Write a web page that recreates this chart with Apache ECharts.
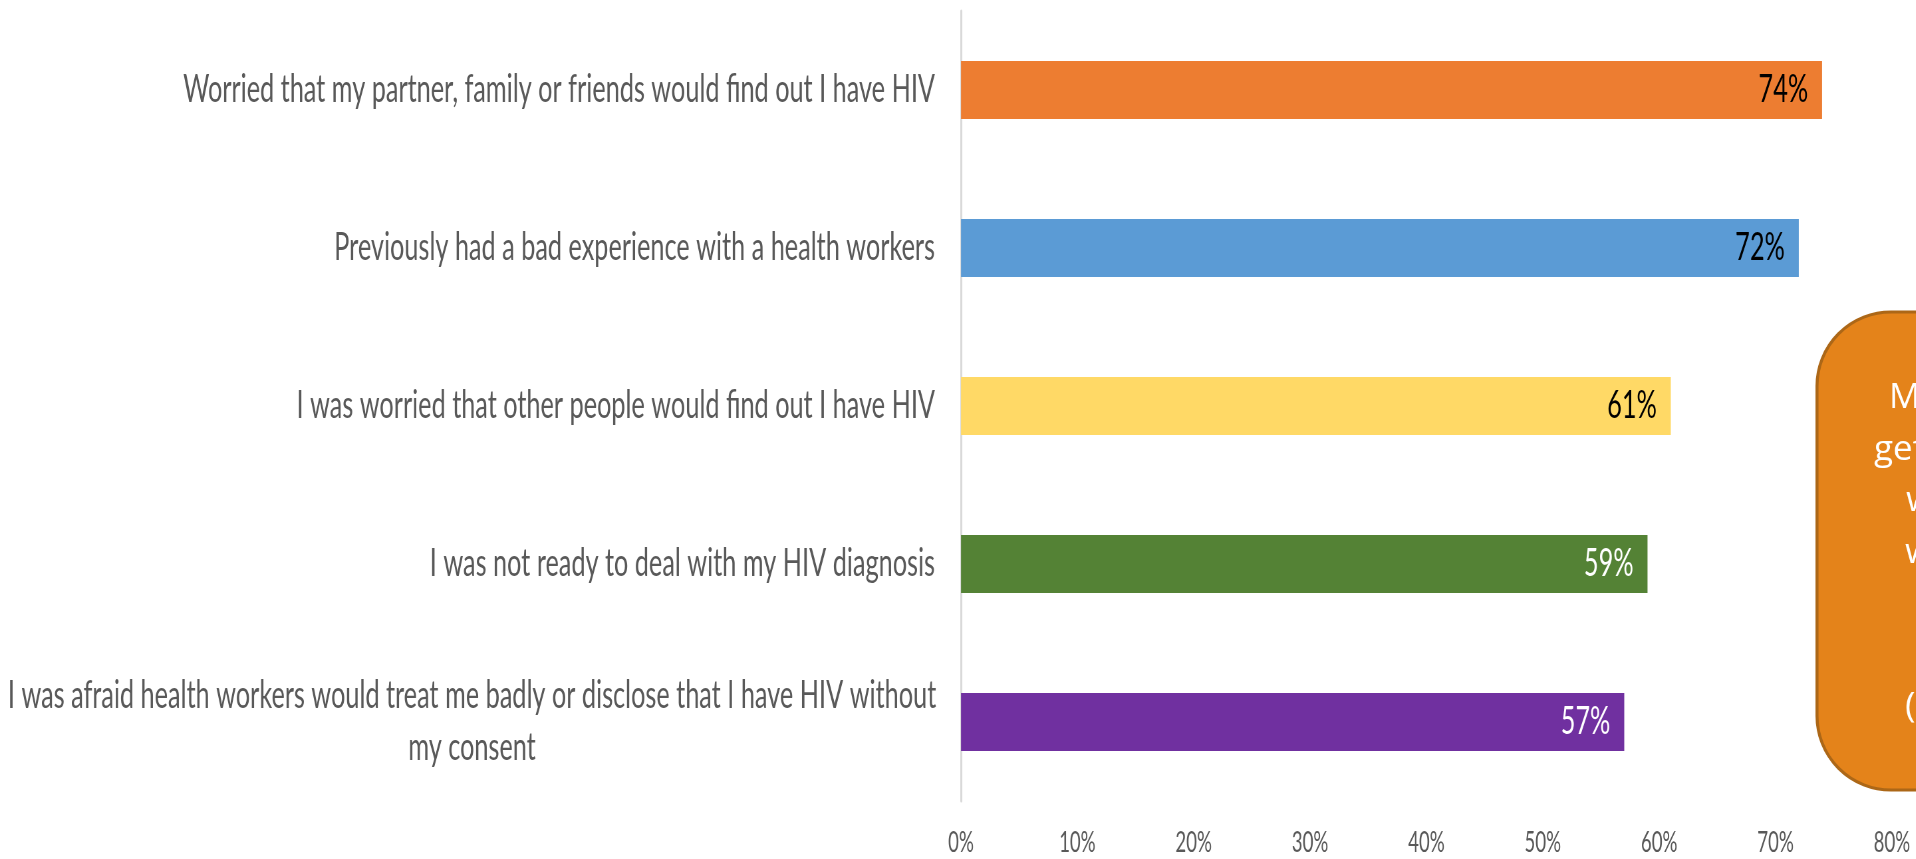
<!DOCTYPE html>
<html>
<head>
<meta charset="utf-8">
<script src="https://cdn.jsdelivr.net/npm/echarts@6/dist/echarts.min.js"></script>
<style>
  html, body { margin: 0; padding: 0; background: #ffffff; overflow: hidden; width: 1916px; height: 859px; }
  #chart { position: absolute; left: 0; top: 0; height: 859px; transform-origin: 0 0; }
</style>
</head>
<body>
<div id="chart"></div>
<script>
// ---- data ----
var categories = [
  'Worried that my partner, family or friends would find out I have HIV',
  'Previously had a bad experience with a health workers',
  'I was worried that other people would find out I have HIV',
  'I was not ready to deal with my HIV diagnosis',
  'I was afraid health workers would treat me badly or disclose that I have HIV without my consent'
];
var values = [74, 72, 61, 59, 57];
var barColors = ['#ED7D31', '#5B9BD5', '#FFD966', '#548235', '#7030A0'];
var labelColors = ['#000000', '#000000', '#000000', '#ffffff', '#ffffff'];
var xTicks = { min: 0, max: 80, interval: 10 };
var calloutLines = ['M', 'get', 'w', 'w', '', '', '('];

// ---- layout (condensed text look: whole chart squeezed horizontally) ----
var S = 0.665;                // horizontal squeeze
var W = 1916, H = 859;
var el = document.getElementById('chart');
el.style.width = (W / S) + 'px';
el.style.transform = 'scaleX(' + S + ')';

var chart = echarts.init(el, null, { renderer: 'canvas' });

function wrap(text, maxChars) {
  var words = text.split(' '), lines = [], cur = '';
  words.forEach(function (w) {
    if ((cur + ' ' + w).trim().length > maxChars) { lines.push(cur); cur = w; }
    else { cur = (cur + ' ' + w).trim(); }
  });
  if (cur) lines.push(cur);
  return lines;
}

var boxX = 1817, boxTop = 312, boxH = 478;
var calloutChildren = [{
  type: 'rect',
  shape: { x: 0, y: boxTop, width: 260, height: boxH, r: 74 },
  style: { fill: '#E4831A', stroke: '#AC6717', lineWidth: 3 }
}];
var lineStarts = [72, 57, 89, 88, 0, 0, 88];
calloutLines.forEach(function (t, i) {
  if (!t) return;
  calloutChildren.push({
    type: 'text',
    style: {
      text: t, x: lineStarts[i], y: 416 + i * 51.4,
      fill: '#ffffff', font: '35px "Open Sans"',
      align: 'left', verticalAlign: 'bottom'
    }
  });
});

var option = {
  animation: false,
  backgroundColor: '#ffffff',
  grid: { left: 961 / S, right: (W - 1892) / S, top: 11, bottom: H - 801, containLabel: false },
  xAxis: {
    type: 'value', min: xTicks.min, max: xTicks.max, interval: xTicks.interval,
    axisLine: { show: false }, axisTick: { show: false }, splitLine: { show: false },
    axisLabel: {
      formatter: '{value}%', color: '#595959', fontFamily: 'Lato', fontSize: 28,
      lineHeight: 28, margin: 28
    }
  },
  yAxis: {
    type: 'category', inverse: true, data: categories,
    axisLine: { show: true, lineStyle: { color: '#D9D9D9', width: 2 / S } },
    axisTick: { show: false },
    axisLabel: {
      color: '#595959', fontFamily: 'Lato', fontSize: 38, lineHeight: 52, margin: 26 / S,
      formatter: function (v) {
        var lines = wrap(v, 86);
        if (lines.length === 1) return v;
        return lines.map(function (l) { return '{c|' + l + '}'; }).join('\n');
      },
      rich: {
        c: { width: 926 / S, align: 'center', color: '#595959', fontFamily: 'Lato', fontSize: 38, lineHeight: 52 }
      }
    }
  },
  series: [{
    type: 'bar',
    barWidth: 58,
    data: values.map(function (v, i) {
      return {
        value: v,
        itemStyle: { color: barColors[i] },
        label: { color: labelColors[i] }
      };
    }),
    label: {
      show: true, position: 'insideRight', distance: 14 / S,
      formatter: '{c}%', fontFamily: 'Lato', fontSize: 38
    }
  }],
  graphic: [{
    type: 'group',
    x: boxX / S, y: 0, scaleX: 1 / S,
    children: calloutChildren
  }]
};
chart.setOption(option);
</script>
</body>
</html>
